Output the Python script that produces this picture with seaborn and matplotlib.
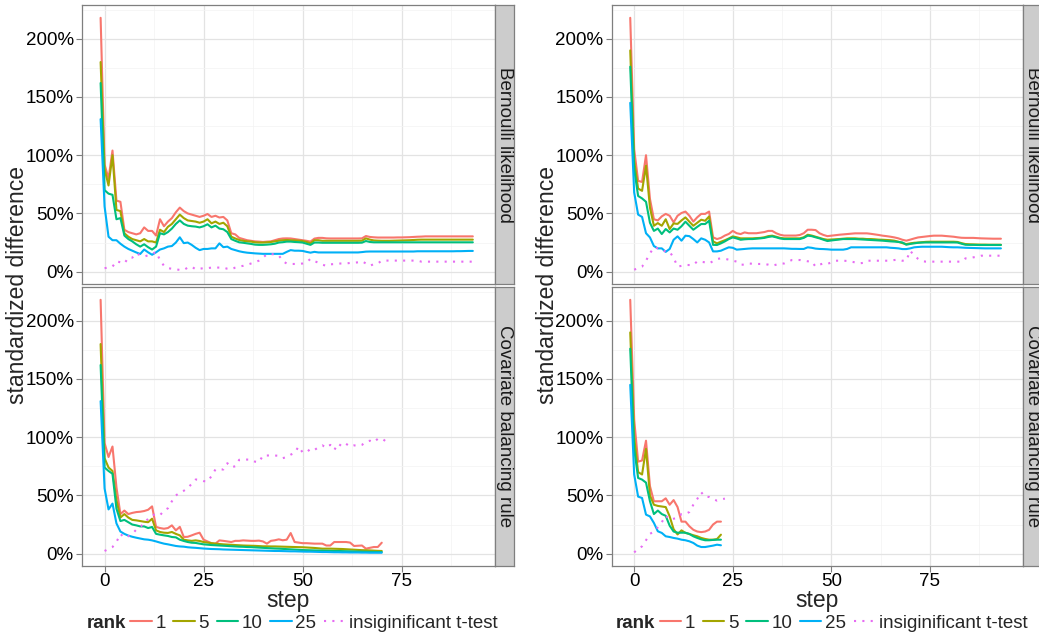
import matplotlib
matplotlib.use("Agg")
import matplotlib.pyplot as plt
import seaborn as sns
import pandas as pd
from matplotlib.ticker import MultipleLocator, FuncFormatter
from matplotlib.lines import Line2D

# ---------------- data ----------------
SERIES = ["1", "5", "10", "25", "insiginificant t-test"]
COLORS = ["#F8766D", "#A3A500", "#00BF7D", "#00B0F6", "#E76BF3"]
LINE_START = -1   # first step of the rank lines
TT_START = 0      # first step of the t-test series
X_TICKS = [0, 25, 50, 75]
Y_TICKS = [0, 50, 100, 150, 200]
FACETS = ["Bernoulli likelihood", "Covariate balancing rule"]

# Left figure, Bernoulli likelihood
LB_r1 = [218, 92, 80, 104, 61, 60, 36, 34, 33, 32,
         33, 38, 35, 35, 31, 45, 39, 43, 46, 51,
         55, 52, 50, 49, 48, 47, 48, 49.5, 47, 48,
         46.5, 47, 44, 33, 32, 29, 28, 27, 26.5, 26,
         25.8, 25.5, 25.8, 26, 27, 28, 28.5, 28.6, 28.5, 28,
         27.5, 27, 26.5, 25.8, 28.4, 29, 29, 28.6, 28.5, 28.5,
         28.5, 28.5, 28.5, 28.5, 28.5, 28.5, 28.6, 30.6, 29.8, 29.5,
         29.3, 29.3, 29.3, 29.3, 29.3, 29.4, 29.4, 29.5, 29.6, 29.8,
         30, 30.1, 30.3, 30.3, 30.3, 30.3, 30.3, 30.3, 30.3, 30.3,
         30.3, 30.3, 30.3, 30.3, 30.3]
LB_r5 = [180, 88, 74, 100, 53, 52, 33, 30, 28, 27,
         26, 28, 26, 26, 25, 36, 34, 38.5, 41, 45,
         49, 46, 44, 43.5, 43, 42, 43, 45, 41.5, 43,
         41, 42, 39, 30, 28.5, 27.2, 26.5, 26, 25.8, 25.2,
         25, 25, 25.2, 25.5, 26, 26.6, 27, 27.2, 27, 26.8,
         26.6, 26.3, 25.5, 24.3, 27, 27, 26.5, 26.5, 26.5, 26.5,
         26.5, 26.5, 26.5, 26.5, 26.5, 26.5, 26.6, 28.6, 27.5, 26.8,
         26.6, 26.5, 26.5, 26.5, 26.6, 26.7, 26.8, 26.9, 27, 27.2,
         27.4, 27.5, 27.5, 27.5, 27.5, 27.5, 27.5, 27.5, 27.5, 27.5,
         27.5, 27.5, 27.5, 27.5, 27.5]
LB_r10 = [162, 70, 67, 66, 45, 46, 31, 28, 26, 23.5,
          21.5, 23.5, 21, 19, 21.5, 33, 32, 34, 37, 41,
          44, 41, 39.5, 39, 38.7, 38, 39, 40.7, 38, 39.5,
          37, 36.4, 34, 28, 26.5, 25.2, 24.8, 24.3, 23.8, 23.2,
          23, 23, 23.2, 23.5, 24, 25, 25.3, 25.8, 25.8, 25.5,
          25.3, 25, 24, 23, 25, 25, 24.8, 24.8, 24.8, 24.8,
          24.8, 24.8, 24.8, 24.8, 24.8, 24.8, 24.9, 26.3, 25.5, 25.2,
          25.2, 25.2, 25.2, 25.2, 25.2, 25.2, 25.2, 25.2, 25.2, 25.2,
          25.2, 25.2, 25.2, 25.2, 25.2, 25.2, 25.2, 25.2, 25.2, 25.2,
          25.2, 25.2, 25.2, 25.2, 25.2]
LB_r25 = [131, 56, 30, 27, 27, 24, 21.5, 19.5, 18, 16.5,
          15.2, 19, 16.6, 14.5, 16.6, 19, 20, 21.5, 22, 25,
          29.5, 24.5, 25, 23, 20.5, 18.5, 19.5, 19.5, 20, 20,
          24.3, 21, 21.5, 19.5, 18.5, 17.5, 16.8, 16.3, 16, 15.7,
          15.5, 15.3, 15.3, 15.3, 15.3, 15.3, 15.3, 17, 18.5, 18,
          18, 17.8, 17, 16.3, 17, 16.5, 16.5, 16.5, 16.5, 16.5,
          16.5, 16.5, 16.5, 16.5, 16.5, 16.5, 16.8, 17.2, 17.3, 17.3,
          17.3, 17.3, 17.3, 17.3, 17.3, 17.3, 17.3, 17.3, 17.3, 17.3,
          17.5, 17.5, 17.5, 17.5, 17.5, 17.5, 17.5, 17.5, 17.5, 17.5,
          17.6, 17.6, 17.7, 17.8, 17.8]
LB_tt = [3, 3.5, 4.3, 9, 8, 7, 12, 12, 15.8, 14,
         13, 14, 15, 17, 10, 5, 3, 2.5, 2, 1.5,
         1.4, 3.5, 4.3, 2, 2.5, 3, 3, 3.5, 3.5, 3.5,
         3.5, 2.5, 2, 3.5, 4.5, 5, 6, 7, 8, 9.5,
         12, 15, 15, 15, 14, 9, 7, 6.6, 6.6, 6.6,
         7, 8, 11, 9, 7.7, 6, 5, 6.3, 6.5, 7,
         7, 7, 7.5, 7.7, 8, 9, 7, 5, 6.5, 7,
         9.5, 9.5, 9.5, 9.5, 9.5, 9.5, 9.5, 9.5, 9.5, 9.5,
         8.6, 8.6, 8.6, 8.6, 8.6, 8.6, 8.6, 8.6, 8.6, 8.6,
         8.6, 8.6, 8.6, 8.6, 8.6]

# Left figure, Covariate balancing rule
LC_r1 = [218, 95, 83, 92, 57, 34, 37, 34, 35, 35.7,
         36, 36.6, 37.7, 40.6, 23, 22, 21.4, 22, 24.3, 20,
         23, 14.3, 14.5, 15.7, 17, 18, 12, 10.5, 9, 8.6,
         11.4, 11, 10.5, 10, 11, 11, 11.4, 11.2, 11, 11,
         11.2, 10.5, 8.6, 11, 11.5, 12.3, 11.5, 12, 17.7, 10,
         9.5, 9, 9, 8.8, 8.6, 8.6, 8.6, 7, 7, 10,
         10, 10, 10, 9.5, 6.6, 6.8, 7, 4.3, 5, 5.7,
         5.7, 9.4]
LC_r5 = [180, 82, 74, 71, 46, 31, 34, 31, 29, 28.6,
         28, 27.4, 27, 30, 20, 18.6, 18, 17.8, 18.6, 17,
         15.7, 12, 11.4, 11, 11.4, 10.9, 10, 9.5, 9, 8.6,
         8.3, 8, 7.8, 7.6, 7.4, 7.2, 7, 6.9, 6.8, 6.7,
         6.5, 6.3, 6.3, 6.2, 6.2, 6.1, 6, 5.9, 5.8, 5.7,
         5.6, 5.5, 5.3, 5.1, 4.9, 4.6, 4.3, 4.3, 4.3, 4.2,
         4.1, 4, 3.8, 3.6, 3.4, 3.2, 3, 2.9, 2.8, 2.6,
         2.4, 2.3]
LC_r10 = [162, 74, 71, 68.6, 38.6, 28, 29, 27, 25, 24.3,
          23.4, 23.4, 22, 22.9, 17, 16.3, 15.7, 15.2, 14.3, 14,
          12, 10.9, 10, 9.4, 9.2, 8.6, 8, 7.7, 7.4, 7.2,
          7, 6.8, 6.6, 6.4, 6.2, 6, 5.9, 5.7, 5.6, 5.4,
          5.2, 5, 4.8, 4.6, 4.4, 4.3, 4.1, 3.9, 3.7, 3.5,
          3.3, 3.1, 3, 2.9, 2.8, 2.7, 2.6, 2.5, 2.4, 2.3,
          2.3, 2.2, 2.1, 2, 1.9, 1.8, 1.7, 1.6, 1.5, 1.5,
          1.4, 1.4]
LC_r25 = [131, 56, 38, 43, 26, 19, 17, 15.5, 14.5, 13.7,
          13, 12.3, 12, 11.4, 10.5, 9.5, 8.6, 8, 7.3, 6.6,
          6.2, 6, 5.5, 5.2, 5, 4.7, 4.4, 4.2, 4, 3.9,
          3.8, 3.6, 3.5, 3.4, 3.3, 3.2, 3.1, 3, 2.9, 2.8,
          2.7, 2.6, 2.5, 2.4, 2.3, 2.3, 2.2, 2.1, 2, 2,
          1.9, 1.8, 1.7, 1.7, 1.6, 1.5, 1.4, 1.4, 1.3, 1.2,
          1.2, 1.1, 1.1, 1, 1, 1, 0.9, 0.9, 0.8, 0.8,
          0.8, 0.8]
LC_tt = [2.3, 4, 5.7, 10, 17, 13.7, 15, 17, 20.6, 23,
         26, 30, 32.9, 34, 33, 37, 39, 45, 50, 52.3,
         54, 56.3, 60, 63.7, 63.4, 62.3, 62, 66.6, 72.3, 72.3,
         72.3, 77.7, 74.3, 75, 80.6, 80.9, 80.8, 80.7, 79, 78.6,
         84.3, 84.3, 84.3, 84.3, 84, 82, 83, 85, 86.6, 92,
         87, 87, 90, 89, 91.4, 93, 90.9, 93.4, 89, 94.5,
         92, 94.3, 92, 93, 92.5, 93.4, 96, 97, 95.7, 98.6,
         99, 96.5]

# Right figure, Bernoulli likelihood
RB_r1 = [218, 105, 78, 77, 100, 62.5, 45, 44, 47.5, 49.6,
         48, 42.4, 48, 50.4, 51.6, 48, 43, 46.7, 49.6, 49.6,
         51.6, 29.5, 28, 29, 31, 32.4, 35, 33, 32.3, 33.7,
         33, 33, 33, 33.5, 34, 35, 35, 33, 31.7, 31,
         31, 31, 31, 31.5, 33, 36, 36, 35.7, 33, 31.5,
         30.5, 30.9, 31.3, 31.7, 32, 32.3, 32.6, 32.9, 32.9, 32.9,
         32.9, 32.5, 32, 31.5, 30.9, 30.5, 30, 29.4, 28.6, 27.4,
         26.6, 27.5, 28.5, 29.4, 29.8, 30.2, 30.6, 30.9, 30.9, 30.9,
         30.6, 30.3, 30, 29.5, 29.1, 29, 29, 29, 28.8, 28.6,
         28.5, 28.4, 28.3, 28.3, 28.3]
RB_r5 = [190, 95, 71.4, 69.4, 91, 55, 39.4, 41.7, 39.4, 45,
         36.6, 41.4, 41, 44, 46.6, 42.9, 39.4, 42, 44.6, 43.7,
         47.4, 26, 24.3, 25.7, 27, 28.5, 30.3, 29.5, 28.6, 28.6,
         28.6, 28.6, 28.8, 29, 29.5, 30.5, 30.9, 30, 29, 28.6,
         28.6, 28.6, 28.6, 28.6, 29.5, 31.7, 31, 30, 29, 28,
         27.4, 27.6, 27.8, 28, 28.3, 28.6, 28.6, 28.6, 28.3, 28.3,
         28, 28, 27.8, 27.5, 27.4, 27.2, 27, 26.6, 25.7, 24.5,
         23.7, 24.3, 24.8, 25, 25.3, 25.6, 25.7, 25.7, 25.7, 25.7,
         25.7, 25.7, 25.7, 25.5, 24.5, 23.7, 23.5, 23.4, 23.3, 23.2,
         23.2, 23.1, 23.1, 23.1, 23.1]
RB_r10 = [176, 88, 65, 62.9, 60, 42, 35, 37, 32.3, 36.6,
          33.7, 37, 36, 39, 42.9, 39.4, 36, 38.5, 40.9, 40.9,
          43.7, 23, 22.9, 24.3, 26, 28, 29.4, 28.5, 27.4, 27.8,
          28, 28, 28.3, 28.6, 29, 29.8, 30.3, 29.5, 28.5, 28,
          28, 28, 28, 28, 29, 30.9, 30.5, 29.5, 28.6, 27.4,
          26.3, 26.8, 27.2, 27.6, 28, 28, 28, 28, 27.8, 27.6,
          27.4, 27.2, 27, 26.8, 26.6, 26.3, 26, 25.8, 25.5, 25.1,
          23.1, 23.8, 24.3, 24.8, 25, 25.1, 25.1, 25.1, 25.1, 25.1,
          25.1, 25.1, 25.1, 25, 24, 23.1, 23, 23, 22.9, 22.9,
          22.9, 22.9, 22.9, 22.9, 22.9]
RB_r25 = [145, 68, 49, 47, 33, 29.4, 22, 20, 20, 17,
          19.5, 27.4, 30.3, 26.6, 30.9, 30.5, 28, 25.1, 28.6, 27.4,
          25.1, 17.4, 17.4, 18, 19.5, 20.9, 20.5, 18.9, 19.2, 19.5,
          19.8, 20, 20, 20, 20, 20, 20, 20, 20, 20,
          19.8, 19.6, 19.6, 19.5, 19.5, 20.9, 20.5, 19.8, 19.5, 19.4,
          19.2, 18.9, 18.9, 18.9, 18.9, 19.5, 20.9, 20.9, 20.9, 20.9,
          20.9, 20.9, 20.9, 20.9, 20.9, 20.9, 20.5, 20.3, 20, 19.4,
          19.4, 20, 20.9, 21.2, 21.4, 21.4, 21.4, 21.4, 21.4, 21.4,
          21.2, 21, 20.9, 20.9, 20.7, 20.5, 20.4, 20.3, 20.2, 20.1,
          20, 20, 20, 20, 20]
RB_tt = [1.7, 3, 4.3, 9.4, 15.7, 20.9, 20, 19.4, 17, 17,
         12, 4.3, 5, 5.7, 5.7, 5.7, 8.9, 8.5, 8, 7.1,
         9, 10.9, 11.4, 11, 10.3, 9.5, 8.6, 6, 6, 7,
         6.8, 6.6, 6.6, 6.6, 6, 5.1, 6, 7, 7, 8.5,
         10, 10, 10, 9.5, 8.9, 8.9, 4.3, 6, 7.1, 6.6,
         8, 9.4, 9.4, 9.4, 9.2, 8.6, 8, 7.1, 7.5, 9.4,
         9.4, 9.4, 9.4, 9.4, 9.4, 9.4, 10, 10.3, 9.4, 9.4,
         18, 13.7, 11, 9, 8.6, 8.6, 8.6, 8.6, 8.6, 8.6,
         8.6, 8.6, 8.6, 8.6, 11.4, 11.5, 12.3, 12.8, 13.7, 13.7,
         13.7, 13.7, 13.7, 13.7, 13.7]

# Right figure, Covariate balancing rule
RC_r1 = [218, 115, 79, 80, 97, 58, 45, 45, 45, 47.5,
         42, 46, 40, 27.5, 27.5, 23.5, 20.5, 19, 18.5, 19,
         20.5, 25, 27.5, 27.5]
RC_r5 = [190, 100, 70, 68, 90, 50, 42, 41, 40.5, 40,
         32, 21, 16.5, 20, 17.8, 16.9, 15.8, 14.9, 13.5, 12.6,
         12, 12, 12.5, 16.3]
RC_r10 = [176, 90, 65, 63.6, 61, 45, 34, 37, 34, 32.5,
          24, 19, 18, 18, 18, 16.9, 14.9, 13.5, 12.3, 11.5,
          11.5, 11.8, 12, 12]
RC_r25 = [145, 68, 49, 47.8, 33.5, 32, 26.4, 19.2, 17.8, 14.9,
          14.3, 13.5, 12.9, 12, 11.5, 10.6, 9.2, 6.9, 5.7, 5.7,
          6.3, 6.9, 7.7, 7.2]
RC_tt = [1.1, 4, 6.3, 11.5, 17, 19, 22.6, 27, 32.7, 29.2,
         30, 30.7, 34, 34, 35.8, 42, 47, 52.7, 48.7, 48.7,
         47, 45.5, 46.5, 47.3]


def make_df(r1, r5, r10, r25, tt):
    rows = []
    for name, vals, start in [("1", r1, LINE_START), ("5", r5, LINE_START),
                              ("10", r10, LINE_START), ("25", r25, LINE_START),
                              (SERIES[4], tt, TT_START)]:
        for i, v in enumerate(vals):
            rows.append((start + i, v, name))
    return pd.DataFrame(rows, columns=["step", "value", "rank"])


DATA = {
    ("L", 0): make_df(LB_r1, LB_r5, LB_r10, LB_r25, LB_tt),
    ("L", 1): make_df(LC_r1, LC_r5, LC_r10, LC_r25, LC_tt),
    ("R", 0): make_df(RB_r1, RB_r5, RB_r10, RB_r25, RB_tt),
    ("R", 1): make_df(RC_r1, RC_r5, RC_r10, RC_r25, RC_tt),
}

# ---------------- figure ----------------
sns.set_theme(style="white")
plt.rcParams["font.family"] = ["Liberation Sans", "DejaVu Sans"]
plt.rcParams["axes.unicode_minus"] = True

W, H = 1039, 639
fig = plt.figure(figsize=(W / 100, H / 100), dpi=100)
fig.patch.set_facecolor("white")


def rect(x0, y0, x1, y1):
    return [x0 / W, 1 - y1 / H, (x1 - x0) / W, (y1 - y0) / H]


PANEL_X = {"L": (82, 495), "R": (611.7, 1023)}
PANEL_Y = [(5, 284), (287, 566)]
STRIP_W = 18.5
FS = 13.5
BORDER = "#7f7f7f"
DASHES = ["", "", "", "", (1, 3)]

for side in ["L", "R"]:
    x0, x1 = PANEL_X[side]
    for row in [0, 1]:
        y0, y1 = PANEL_Y[row]
        ax = fig.add_axes(rect(x0, y0, x1, y1))
        df = DATA[(side, row)]
        sns.lineplot(data=df, x="step", y="value", hue="rank", hue_order=SERIES,
                     palette=COLORS, style="rank", style_order=SERIES,
                     dashes=DASHES, linewidth=1.5, legend=False, ax=ax,
                     estimator=None)
        ax.set_xlim(-5.7, 98.6)
        ax.set_ylim(-10.6, 229)
        ax.xaxis.set_major_locator(MultipleLocator(25))
        ax.xaxis.set_minor_locator(MultipleLocator(12.5))
        ax.set_yticks(Y_TICKS)
        ax.yaxis.set_minor_locator(MultipleLocator(25))
        ax.set_xticks(X_TICKS)
        ax.yaxis.set_major_formatter(FuncFormatter(lambda v, p: f"{v:.0f}%"))
        ax.set_axisbelow(True)
        ax.grid(which="major", color="#e3e3e3", linewidth=0.9)
        ax.grid(which="minor", color="#f3f3f3", linewidth=0.5)
        for s in ax.spines.values():
            s.set_color(BORDER)
            s.set_linewidth(0.9)
        ax.set_xlabel("")
        ax.set_ylabel("")
        ax.tick_params(axis="both", which="major", length=4, width=0.8,
                       color=BORDER, labelsize=FS, labelcolor="black", pad=2,
                       left=True, bottom=True)
        ax.tick_params(axis="x", which="major", pad=1)
        ax.tick_params(which="minor", length=0)
        if row == 0:
            ax.tick_params(axis="x", which="both", bottom=False, labelbottom=False)
        # facet strip
        sax = fig.add_axes(rect(x1, y0, x1 + STRIP_W, y1))
        sax.set_facecolor("#cccccc")
        sax.set_xticks([])
        sax.set_yticks([])
        for s in sax.spines.values():
            s.set_color(BORDER)
            s.set_linewidth(0.9)
        sax.text(0.5, 0.5, FACETS[row], rotation=-90, ha="center", va="center",
                 fontsize=FS, color="#1a1a1a", transform=sax.transAxes)

    xc = (x0 + x1) / 2
    fig.text(xc / W, 1 - 601 / H, "step", ha="center", va="center", fontsize=16.5)
    fig.text((x0 - 64) / W, 1 - 285.5 / H, "standardized difference",
             rotation=90, ha="center", va="center", fontsize=16.5)

    # legend
    lx = x0 + 4.5
    fig.text(lx / W, 1 - 623 / H, "rank", fontweight="bold", fontsize=FS,
             ha="left", va="center")
    handles = [Line2D([], [], color=c, linewidth=1.5,
                      linestyle="-" if not d else (0, d))
               for c, d in zip(COLORS, DASHES)]
    fig.legend(handles, SERIES, loc="center left",
               bbox_to_anchor=((x0 + 48) / W, 1 - 623 / H), ncol=5,
               frameon=False, fontsize=FS, handlelength=1.15,
               handletextpad=0.2, columnspacing=0.4, borderpad=0,
               borderaxespad=0)

fig.savefig("out.png", dpi=100, facecolor="white")
